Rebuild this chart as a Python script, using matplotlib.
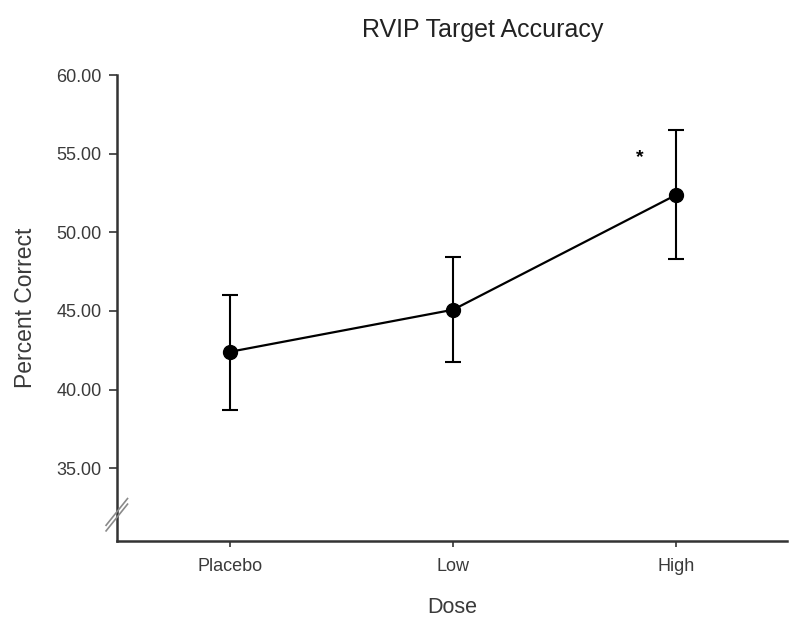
import matplotlib
matplotlib.use("Agg")
import matplotlib.pyplot as plt
import matplotlib.transforms as mtransforms

plt.rcParams['font.family'] = ['Liberation Sans', 'DejaVu Sans']

doses = ["Placebo", "Low", "High"]
means = [42.41, 45.08, 52.37]
err_upper = [46.03, 48.44, 56.50]
err_lower = [38.73, 41.78, 48.30]
yticks = [35, 40, 45, 50, 55, 60]
star_pos = (2.84, 54.75)

text_color = "#3a3a3a"

fig = plt.figure(figsize=(8, 6.25), dpi=100)
ax = fig.add_axes([0.146, 0.1344, 0.838, 0.7456])

x = [1, 2, 3]
yerr = [[m - l for m, l in zip(means, err_lower)],
        [u - m for u, m in zip(err_upper, means)]]
ax.errorbar(x, means, yerr=yerr, color="black", lw=1.6, elinewidth=1.5,
            capsize=5.5, capthick=1.5, marker="o", markersize=10,
            markerfacecolor="black", markeredgecolor="black", zorder=3)

ax.text(star_pos[0], star_pos[1], "*", ha="center", va="center",
        fontsize=14, fontweight="bold", color="black")

ax.set_xlim(0.49, 3.5)
ax.set_ylim(30.38, 60)
ax.set_xticks(x)
ax.set_xticklabels(doses)
ax.set_yticks(yticks)
ax.set_yticklabels([f"{v:.2f}" for v in yticks])

for s in ["top", "right"]:
    ax.spines[s].set_visible(False)
for s in ["left", "bottom"]:
    ax.spines[s].set_linewidth(1.8)
    ax.spines[s].set_color("#333333")

ax.tick_params(axis="y", direction="out", length=6, width=1.2, colors="#333333",
               labelsize=13, labelcolor=text_color, pad=5)
ax.tick_params(axis="x", direction="out", length=4, width=1.2, colors="#333333",
               labelsize=13, labelcolor=text_color, pad=8)

ax.set_xlabel("Dose", fontsize=15.5, color=text_color, labelpad=16)
ax.set_ylabel("Percent Correct", fontsize=16.5, color=text_color, labelpad=14)

fig.text(0.603, 0.952, "RVIP Target Accuracy", ha="center", va="center",
         fontsize=18, color="#222222")

# axis break marks
trans = mtransforms.blended_transform_factory(ax.transAxes, ax.transData)
for dy in (-0.028, 0.028):
    t = trans + mtransforms.ScaledTranslation(0, dy, fig.dpi_scale_trans)
    ax.plot([-0.016, 0.016], [32.05 - 0.85, 32.05 + 0.85], transform=t,
            color="#8a8a8a", lw=1.2, clip_on=False, zorder=4)

fig.savefig("out.png", dpi=100)
